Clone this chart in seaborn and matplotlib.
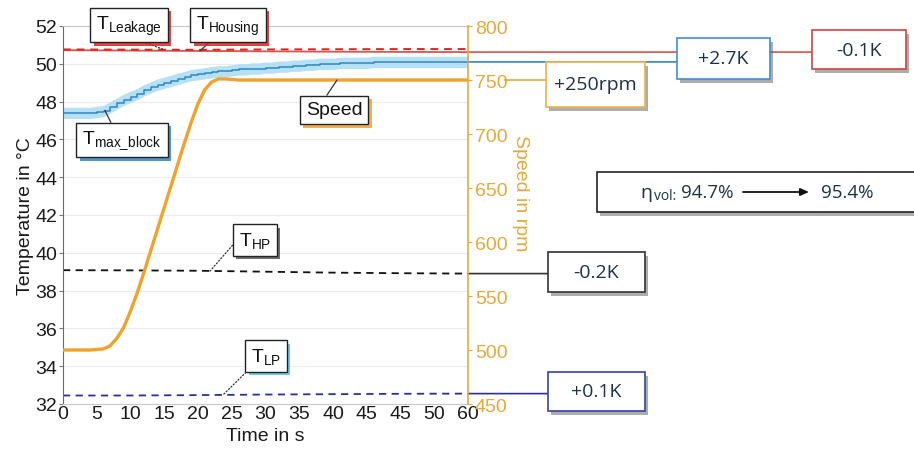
import numpy as np
import matplotlib
matplotlib.use("Agg")
import matplotlib.pyplot as plt
import matplotlib.patheffects as pe
from matplotlib.patches import Rectangle
import seaborn as sns

# ---- measured series -------------------------------------------------------
time_block = list(range(0, 61))
t_max_block = [47.4, 47.4, 47.4, 47.4, 47.4, 47.45, 47.5, 47.7, 47.9, 48.1,
               48.25, 48.4, 48.6, 48.75, 48.9, 49.0, 49.1, 49.2, 49.3, 49.4,
               49.45, 49.5, 49.55, 49.6, 49.6, 49.65, 49.7, 49.7, 49.75, 49.75,
               49.8, 49.8, 49.85, 49.85, 49.9, 49.9, 49.95, 49.95, 50.0, 50.0,
               50.0, 50.05, 50.05, 50.05, 50.05, 50.05, 50.1, 50.1, 50.1, 50.1,
               50.1, 50.1, 50.1, 50.1, 50.1, 50.1, 50.1, 50.1, 50.1, 50.1, 50.1]
block_band = 0.3

time_speed = [0, 2, 4, 6, 7, 8, 9, 10, 11, 12, 13, 14, 15, 16, 17, 18, 19, 20,
              21, 22, 23, 24, 26, 30, 40, 50, 60]
speed = [500, 500, 500, 501, 504, 511, 521, 536, 553, 572, 592, 612, 632, 652,
         672, 692, 711, 728, 741, 748, 751, 751, 750, 750, 750, 750, 750]

time_slow = [0, 10, 20, 30, 40, 50, 60]
t_leakage = [50.76, 50.75, 50.74, 50.76, 50.77, 50.78, 50.78]
t_housing = [50.72, 50.70, 50.68, 50.66, 50.64, 50.63, 50.62]
t_hp = [39.08, 39.07, 39.05, 39.00, 38.95, 38.92, 38.90]
t_lp = [32.45, 32.45, 32.47, 32.50, 32.52, 32.54, 32.55]

eta_before, eta_after = 94.7, 95.4

x_ticks = [0, 5, 10, 15, 20, 25, 30, 35, 40, 45, 50, 55, 60]
x_tick_labels = ["0", "5", "10", "15", "20", "25", "30", "35", "40", "45",
                 "45", "50", "60"]
temp_ticks = list(range(32, 53, 2))
speed_ticks = list(range(450, 801, 50))

# ---- style -----------------------------------------------------------------
sns.set_style("white")
plt.rcParams["font.family"] = ["Liberation Sans", "DejaVu Sans"]
plt.rcParams["mathtext.default"] = "regular"

W, H = 914, 452
fig = plt.figure(figsize=(W / 100, H / 100), dpi=100)
ax = fig.add_axes([63 / W, 47 / H, 405 / W, 378 / H])
ax2 = ax.twinx()

C_SPEED = "#f2a229"
C_SPEED_AX = "#e5a93c"
C_BLOCK = "#2f86c4"
C_BAND = "#a9dcf3"
C_RED_D = "#e0231f"
C_RED_S = "#d9534f"
C_LP = "#2b2f9e"
C_TEXT = "#1e3246"
BOX_FONT = ["Open Sans", "DejaVu Sans"]

# temperature series
ax.fill_between(time_block, np.array(t_max_block) - block_band,
                np.array(t_max_block) + block_band,
                color=C_BAND, alpha=0.85, lw=0)
sns.lineplot(x=time_block, y=t_max_block, ax=ax, color=C_BLOCK, lw=1.1,
             drawstyle="steps-post")
sns.lineplot(x=time_slow, y=t_housing, ax=ax, color=C_RED_S, lw=1.3)
sns.lineplot(x=time_slow, y=t_leakage, ax=ax, color=C_RED_D, lw=1.4,
             linestyle=(0, (4, 3)))
sns.lineplot(x=time_slow, y=t_hp, ax=ax, color="#111111", lw=1.3,
             linestyle=(0, (4, 3)))
sns.lineplot(x=time_slow, y=t_lp, ax=ax, color=C_LP, lw=1.3,
             linestyle=(0, (4, 3)))

# speed on the secondary axis
sns.lineplot(x=time_speed, y=speed, ax=ax2, color=C_SPEED, lw=2.4)

# ---- axes formatting ------------------------------------------------------
ax.set_xlim(0, 60)
ax.set_ylim(32, 52)
ax2.set_ylim(450, 800)
ax.set_xticks(x_ticks)
ax.set_xticklabels(x_tick_labels)
ax.set_xticks([15, 30, 45], minor=True)
ax.set_yticks(temp_ticks)
ax2.set_yticks(speed_ticks)

ax.grid(False)
ax.grid(which="minor", axis="x", color="#e3e3e3", lw=0.8)
ax.grid(which="major", axis="y", color="#ececec", lw=0.8)
ax.set_axisbelow(True)

ax.tick_params(axis="both", which="major", labelsize=14, colors="#1a1a1a",
               length=0, pad=1)
ax.tick_params(axis="x", which="minor", direction="in", length=4,
               color="#b0b0b0")
ax.tick_params(axis="y", which="major", length=3, direction="out",
               color="#777777")
ax2.tick_params(axis="y", labelsize=14, colors=C_SPEED_AX, length=3,
                direction="out", pad=2)

ax.set_xlabel("Time in s", fontsize=14, labelpad=3, color="#1a1a1a")
ax.set_ylabel("Temperature in °C", fontsize=14, labelpad=1, color="#1a1a1a")
ax2.set_ylabel("Speed in rpm", fontsize=14, color=C_SPEED_AX, rotation=270)
ax2.yaxis.set_label_coords(1.15, 0.56)

for side in ("top", "bottom"):
    ax.spines[side].set_color("#c8c8c8")
ax.spines["left"].set_color("#6a6a6a")
ax.spines["right"].set_visible(False)
for side in ("left", "top", "bottom"):
    ax2.spines[side].set_visible(False)
ax2.spines["right"].set_color(C_SPEED_AX)
ax2.spines["right"].set_linewidth(1.2)


def fig_px(x, y):
    """Figure pixel position measured from the top-left corner."""
    return (x, H - y)


# ---- series labels inside the plot ---------------------------------------
def series_label(axis, text, box_xy, t_pick, t_arr, v_arr, shadow, style,
                 relpos=(0.5, 0.0)):
    point = (t_pick, float(np.interp(t_pick, t_arr, v_arr)))
    ann = axis.annotate(
        text, xy=point, xycoords="data", xytext=fig_px(*box_xy),
        textcoords="figure pixels", ha="center", va="center", fontsize=14,
        color="#111111",
        bbox=dict(boxstyle="square,pad=0.3", fc="white", ec="#222222",
                  lw=1.0),
        arrowprops=dict(arrowstyle="-", color="#333333", lw=0.9,
                        linestyle=style, relpos=relpos, shrinkA=0,
                        shrinkB=0),
        annotation_clip=False, zorder=6)
    ann.get_bbox_patch().set_path_effects([
        pe.SimplePatchShadow(offset=(2.5, -2.5), shadow_rgbFace=shadow,
                             alpha=0.85),
        pe.Normal()])
    return ann


series_label(ax, r"T$_{Leakage}$", (129, 26), 15.0, time_slow, t_leakage,
             C_RED_D, ":", relpos=(0.5, 0.0))
series_label(ax, r"T$_{Housing}$", (228, 26), 20.3, time_slow, t_housing,
             C_RED_D, "-", relpos=(0.3, 0.0))
series_label(ax, r"T$_{max\_block}$", (122, 141), 6.2, time_block,
             t_max_block, C_BLOCK, "-", relpos=(0.4, 1.0))
series_label(ax2, "Speed", (334, 111), 40.6, time_speed, speed, C_SPEED, "-",
             relpos=(0.3, 1.0))
series_label(ax, r"T$_{HP}$", (255, 241), 21.8, time_slow, t_hp, "#555555",
             ":", relpos=(0.0, 0.6))
series_label(ax, r"T$_{LP}$", (266, 357), 23.7, time_slow, t_lp, "#4cc3ef",
             ":", relpos=(0.05, 0.0))


# ---- change boxes to the right of the plot -------------------------------
def value_box(x0, y0, x1, y1, text, edge, fontsize=14):
    rect = Rectangle((x0 / W, (H - y1) / H), (x1 - x0) / W, (y1 - y0) / H,
                     transform=fig.transFigure, fc="white", ec=edge, lw=1.2,
                     zorder=5)
    rect.set_path_effects([
        pe.SimplePatchShadow(offset=(2, -3), shadow_rgbFace="#4a4a4a",
                             alpha=0.45),
        pe.Normal()])
    fig.add_artist(rect)
    if text:
        fig.text(((x0 + x1) / 2) / W, (H - (y0 + y1) / 2) / H, text,
                 ha="center", va="center", fontsize=fontsize, color=C_TEXT,
                 family=BOX_FONT, zorder=6)


def connector(axis, x_from, value, x_to, color, x_coord="data"):
    axis.annotate("", xy=(x_from, value), xycoords=(x_coord, "data"),
                  xytext=(x_to, value), textcoords=("figure pixels", "data"),
                  arrowprops=dict(arrowstyle="-", color=color, lw=1.2,
                                  shrinkA=0, shrinkB=0),
                  annotation_clip=False)


def delta_text(values, unit="K"):
    return f"{values[-1] - values[0]:+.1f}{unit}"


connector(ax, 60, t_housing[-1], 812, C_RED_S)
connector(ax, 60, t_max_block[-1], 678, C_BLOCK)
connector(ax2, 1.09, speed[-1], 547, C_SPEED_AX, x_coord="axes fraction")
connector(ax, 60, t_hp[-1], 549, "#333333")
connector(ax, 60, t_lp[-1], 549, C_LP)

value_box(812, 31, 906, 70, delta_text(t_housing), "#d0463c")
value_box(677, 39, 770, 80, delta_text(t_max_block), "#3d8fd1")
value_box(546, 63, 645, 108, f"{speed[-1] - speed[0]:+d}rpm", "#efb244")
value_box(548, 253, 645, 293, delta_text(t_hp), "#333333")
value_box(548, 373, 645, 412, delta_text(t_lp), "#3542a6")

# volumetric efficiency box
value_box(597, 173, 918, 213, "", "#222222")
fig.text(640 / W, (H - 193) / H, "η", ha="left", va="center",
         fontsize=14, color=C_TEXT, family=BOX_FONT, zorder=6)
fig.text(654 / W, (H - 197) / H, "vol:", ha="left", va="center",
         fontsize=10, color=C_TEXT, family=BOX_FONT, zorder=6)
fig.text(681 / W, (H - 193) / H, f"{eta_before:.1f}%", ha="left",
         va="center", fontsize=13.5, color=C_TEXT, family=BOX_FONT, zorder=6)
fig.text(821 / W, (H - 193) / H, f"{eta_after:.1f}%", ha="left",
         va="center", fontsize=13.5, color=C_TEXT, family=BOX_FONT, zorder=6)
fig.add_artist(plt.annotate(
    "", xy=fig_px(809, 193), xycoords="figure pixels",
    xytext=fig_px(743, 193), textcoords="figure pixels",
    arrowprops=dict(arrowstyle="-|>,head_length=0.5,head_width=0.22",
                    color="#111111", lw=1.3, shrinkA=0, shrinkB=0),
    annotation_clip=False, zorder=7))

fig.savefig("out.png", dpi=100, facecolor="white")
